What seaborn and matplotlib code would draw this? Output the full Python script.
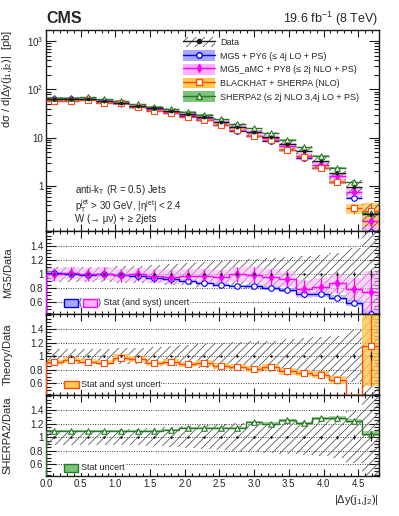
import numpy as np
import matplotlib
matplotlib.use("Agg")
import matplotlib.pyplot as plt
import seaborn as sns
from matplotlib.patches import Patch, Rectangle
from matplotlib.lines import Line2D
from matplotlib.ticker import MultipleLocator, LogLocator, FixedLocator, FixedFormatter, NullFormatter

sns.set_theme(style="ticks")
plt.rcParams['font.family'] = ['Liberation Sans', 'DejaVu Sans']
plt.rcParams['mathtext.fontset'] = 'custom'
plt.rcParams['mathtext.rm'] = 'Liberation Sans'
plt.rcParams['mathtext.it'] = 'Liberation Sans:italic'
plt.rcParams['hatch.linewidth'] = 0.6
plt.rcParams['axes.edgecolor'] = 'black'

# ---------------- data ----------------
edges = np.array([0.0, 0.24, 0.48, 0.72, 0.96, 1.2, 1.44, 1.68, 1.92, 2.16, 2.4,
                  2.64, 2.88, 3.12, 3.36, 3.6, 3.84, 4.08, 4.32, 4.56, 4.8])

data_xsec = np.array([62, 62, 64, 57, 53, 45, 40.5, 35.6, 30.4, 26.4, 21.4,
                      16.9, 13.1, 10.5, 7.3, 5.35, 3.3, 1.86, 0.96, 0.26])
data_stat = np.array([0.005, 0.005, 0.005, 0.006, 0.006, 0.007, 0.007, 0.008, 0.008, 0.009,
                      0.01, 0.011, 0.012, 0.013, 0.015, 0.017, 0.02, 0.025, 0.03, 0.06])
data_unc = np.array([0.11, 0.11, 0.11, 0.11, 0.12, 0.12, 0.13, 0.15, 0.16, 0.18,
                     0.19, 0.21, 0.22, 0.23, 0.25, 0.26, 0.28, 0.3, 0.38, 0.6])

# MG5 + PY6 / data
mg5_ratio = np.array([1.02, 1.01, 0.99, 1.0, 0.985, 0.97, 0.95, 0.925, 0.905, 0.875,
                      0.85, 0.83, 0.83, 0.8, 0.77, 0.71, 0.71, 0.665, 0.59, 0.43])
mg5_stat = np.array([0.015, 0.015, 0.015, 0.015, 0.015, 0.015, 0.015, 0.02, 0.02, 0.02,
                     0.02, 0.02, 0.025, 0.025, 0.03, 0.03, 0.03, 0.035, 0.04, 0.05])
# MG5_aMC + PY8 / data
amc_ratio = np.array([1.0, 1.02, 1.0, 1.01, 0.985, 1.0, 0.975, 0.965, 0.975, 0.975,
                      0.965, 1.0, 0.99, 0.955, 0.93, 0.79, 0.82, 0.87, 0.79, 0.74])
amc_unc = np.array([0.09, 0.09, 0.09, 0.09, 0.09, 0.09, 0.1, 0.1, 0.1, 0.1,
                    0.1, 0.11, 0.11, 0.12, 0.12, 0.13, 0.13, 0.14, 0.16, 0.3])
# BLACKHAT + SHERPA / data
bh_ratio = np.array([0.91, 0.943, 0.92, 0.905, 0.98, 0.957, 0.895, 0.92, 0.88, 0.895,
                     0.857, 0.848, 0.814, 0.838, 0.776, 0.752, 0.729, 0.652, 0.36, 1.147])
bh_unc = np.array([0.04, 0.04, 0.04, 0.04, 0.05, 0.04, 0.04, 0.045, 0.04, 0.045,
                   0.04, 0.04, 0.04, 0.045, 0.045, 0.05, 0.05, 0.06, 0.08, 0.58])
# SHERPA2 / data
sh_ratio = np.array([1.088, 1.088, 1.088, 1.09, 1.09, 1.09, 1.088, 1.11, 1.137, 1.137,
                     1.137, 1.137, 1.218, 1.2, 1.248, 1.204, 1.28, 1.28, 1.233, 1.054])
sh_stat = np.array([0.012, 0.012, 0.012, 0.012, 0.012, 0.012, 0.012, 0.013, 0.013, 0.014,
                    0.014, 0.015, 0.016, 0.017, 0.018, 0.02, 0.022, 0.025, 0.03, 0.04])

labels = ['Data',
          'MG5 + PY6 (≤ 4j LO + PS)',
          'MG5_aMC + PY8 (≤ 2j NLO + PS)',
          'BLACKHAT + SHERPA (NLO)',
          'SHERPA2 (≤ 2j NLO 3,4j LO + PS)']

centers = 0.5 * (edges[:-1] + edges[1:])
half = 0.5 * (edges[1:] - edges[:-1])
ones = np.ones_like(centers)

blue, blue_band = '#0000ff', '#a9a9ff'
mag, mag_band = '#ff00ff', '#ffb0ff'
orng, orng_band = '#ff4a12', '#ffc94d'
grn, grn_band = '#237a23', '#7cc47c'
hatch_col = '0.35'

models = [
    # ratio, unc, color, band, marker, facecolor
    (mg5_ratio, mg5_stat, blue, blue_band, 'o', 'white'),
    (amc_ratio, amc_unc, mag, mag_band, 'd', mag),
    (bh_ratio, bh_unc, orng, orng_band, 's', 'white'),
    (sh_ratio, sh_stat, grn, grn_band, '^', 'white'),
]

fig = plt.figure(figsize=(3.99, 5.16), dpi=100)
L, W = 0.1153, 0.8346
ax_top = fig.add_axes([L, 0.5523, W, 0.3895])
ax_mg = fig.add_axes([L, 0.3915, W, 0.1608], sharex=ax_top)
ax_th = fig.add_axes([L, 0.2345, W, 0.157], sharex=ax_top)
ax_sh = fig.add_axes([L, 0.0775, W, 0.157], sharex=ax_top)

# ---------------- top panel ----------------
ax = ax_top
for ratio, unc, c, band, m, fc in models:
    y = data_xsec * ratio
    e = data_xsec * unc
    ax.stairs(y + e, edges, baseline=y - e, fill=True, color=band, lw=0, alpha=0.8, zorder=1)
ax.stairs(data_xsec * (1 + data_unc), edges, baseline=data_xsec * (1 - data_unc), fill=True,
          facecolor='none', edgecolor=hatch_col, hatch='////', lw=0, zorder=2)
for ratio, unc, c, band, m, fc in models:
    y = data_xsec * ratio
    e = data_xsec * unc
    ax.errorbar(centers, y, xerr=half, yerr=e, fmt='none', ecolor=c, elinewidth=1.0, zorder=3)
    sns.scatterplot(x=centers, y=y, ax=ax, marker=m, s=16, facecolor=fc, edgecolor=c,
                    linewidth=0.8, zorder=4, legend=False)
ax.errorbar(centers, data_xsec, xerr=half, yerr=data_xsec * data_stat, fmt='none',
            ecolor='k', elinewidth=1.0, zorder=5)
sns.scatterplot(x=centers, y=data_xsec, ax=ax, marker='o', s=8, color='k',
                linewidth=0, zorder=6, legend=False)

ax.set_yscale('log')
ax.set_ylim(0.117, 1690)
ax.yaxis.set_major_locator(FixedLocator([1, 10, 100, 1000]))
ax.yaxis.set_major_formatter(FixedFormatter(['1', '10', '$10^2$', '$10^3$']))
ax.yaxis.set_minor_locator(LogLocator(base=10, subs=np.arange(2, 10)))
ax.yaxis.set_minor_formatter(NullFormatter())
ax.set_ylabel('dσ / d|Δy(j$_1$,j$_2$)|  [pb]', loc='top', fontsize=8)
ax.yaxis.set_label_coords(-0.095, 1.0)
plt.setp(ax.get_xticklabels(), visible=False)

handles = [(Patch(facecolor='none', edgecolor=hatch_col, hatch='////', lw=0),
            Line2D([], [], color='k', marker='o', ms=3, lw=1))]
for ratio, unc, c, band, m, fc in models:
    handles.append((Patch(facecolor=band, lw=0),
                    Line2D([], [], color=c, marker=m, ms=4, mfc=fc, mec=c, lw=1)))
ax.legend(handles, labels, loc='upper left', bbox_to_anchor=(0.40, 0.985), frameon=False,
          fontsize=6.5, handlelength=3.6, handleheight=1.45, labelspacing=0.33,
          handletextpad=0.5, borderaxespad=0)

ax.text(0.087, 0.203, 'anti-k$_\\mathrm{T}$ (R = 0.5) Jets', transform=ax.transAxes,
        fontsize=7, va='center')
ax.text(0.087, 0.126, 'p$_\\mathrm{T}^\\mathrm{jet}$ > 30 GeV, |η$^\\mathrm{jet}$| < 2.4',
        transform=ax.transAxes, fontsize=7, va='center')
ax.text(0.087, 0.058, 'W (→ μν) + ≥ 2jets', transform=ax.transAxes, fontsize=7, va='center')

fig.text(L, 1 - 23 / 516, 'CMS', fontsize=11.5, fontweight='bold', ha='left', va='baseline')
fig.text(378 / 399, 1 - 23 / 516, '19.6 fb$^{-1}$ (8 TeV)', fontsize=9, ha='right', va='baseline')

# ---------------- ratio panels ----------------
def ratio_base(ax):
    ax.stairs(1 + data_unc, edges, baseline=1 - data_unc, fill=True, facecolor='none',
              edgecolor=hatch_col, hatch='////', lw=0, zorder=1)
    for g in [0.6, 0.8, 1.0, 1.2, 1.4]:
        ax.axhline(g, color='0.25', ls=(0, (1, 1.5)), lw=0.7, zorder=0)
    ax.errorbar(centers, ones, yerr=data_stat, fmt='none', ecolor='k', elinewidth=0.8, zorder=5)
    sns.scatterplot(x=centers, y=ones, ax=ax, marker='o', s=3, color='k', linewidth=0,
                    zorder=5, legend=False)
    ax.set_ylim(0.43, 1.62)
    ax.yaxis.set_major_locator(FixedLocator([0.6, 0.8, 1.0, 1.2, 1.4]))
    ax.yaxis.set_major_formatter(FixedFormatter(['0.6', '0.8', '1', '1.2', '1.4']))
    ax.yaxis.set_minor_locator(MultipleLocator(0.05))
    ax.yaxis.set_label_coords(-0.10, 0.5)


def ratio_model(ax, ratio, unc, c, band, m, fc, band_alpha=0.7):
    ax.stairs(ratio + unc, edges, baseline=ratio - unc, fill=True, color=band, lw=0,
              alpha=band_alpha, zorder=2)
    ax.stairs(ratio, edges, color=c, lw=1.0, zorder=3)
    ax.errorbar(centers, ratio, yerr=unc, fmt='none', ecolor=c, elinewidth=0.9, zorder=3)
    sns.scatterplot(x=centers, y=ratio, ax=ax, marker=m, s=16, facecolor=fc, edgecolor=c,
                    linewidth=0.8, zorder=4, legend=False)


box_bg = dict(facecolor='white', edgecolor='none', pad=0.6)

ratio_base(ax_mg)
ratio_model(ax_mg, *models[0])
ratio_model(ax_mg, *models[1], band_alpha=0.55)
ax_mg.set_ylabel('MG5/Data', fontsize=8)
ax_mg.add_patch(Rectangle((0.054, 0.09), 0.043, 0.09, transform=ax_mg.transAxes,
                          facecolor=blue_band, edgecolor=blue, lw=1, zorder=7))
ax_mg.text(0.102, 0.135, '(', transform=ax_mg.transAxes, fontsize=6.5, ha='center',
           va='center', zorder=6, bbox=box_bg)
ax_mg.add_patch(Rectangle((0.112, 0.09), 0.040, 0.09, transform=ax_mg.transAxes,
                          facecolor=mag_band, edgecolor=mag, lw=1, zorder=7))
ax_mg.text(0.157, 0.135, ') Stat (and syst) uncert', transform=ax_mg.transAxes,
           fontsize=6.5, va='center', zorder=6, bbox=box_bg)

ratio_base(ax_th)
ratio_model(ax_th, *models[2], band_alpha=0.8)
ax_th.set_ylabel('Theory/Data', fontsize=8)
ax_th.add_patch(Rectangle((0.054, 0.09), 0.045, 0.085, transform=ax_th.transAxes,
                          facecolor=orng_band, edgecolor=orng, lw=1, zorder=7))
ax_th.text(0.104, 0.13, 'Stat and syst uncert', transform=ax_th.transAxes,
           fontsize=6.5, va='center', zorder=6, bbox=box_bg)

ratio_base(ax_sh)
ratio_model(ax_sh, *models[3])
ax_sh.set_ylabel('SHERPA2/Data', fontsize=8)
ax_sh.add_patch(Rectangle((0.054, 0.055), 0.042, 0.095, transform=ax_sh.transAxes,
                          facecolor=grn_band, edgecolor=grn, lw=1, zorder=7))
ax_sh.text(0.104, 0.10, 'Stat uncert', transform=ax_sh.transAxes,
           fontsize=6.5, va='center', zorder=6, bbox=box_bg)
ax_sh.set_xlabel('|Δy(j$_1$,j$_2$)|', loc='right', fontsize=8, labelpad=3)

for a in [ax_mg, ax_th]:
    plt.setp(a.get_xticklabels(), visible=False)

# ---------------- common axis style ----------------
ax_top.set_xlim(0, 4.8)
for a in [ax_top, ax_mg, ax_th, ax_sh]:
    a.xaxis.set_major_locator(MultipleLocator(0.5))
    a.xaxis.set_minor_locator(MultipleLocator(0.1))
    a.tick_params(which='both', direction='in', top=True, right=True, labelsize=7,
                  color='k', width=0.8, pad=2)
    a.tick_params(axis='x', which='major', length=5)
    a.tick_params(axis='x', which='minor', length=2.5)
    a.tick_params(axis='y', which='major', length=7)
    a.tick_params(axis='y', which='minor', length=3.5)
    for s in a.spines.values():
        s.set_linewidth(1.0)
        s.set_color('k')
    a.set_facecolor('white')

fig.savefig('out.png', dpi=100)
